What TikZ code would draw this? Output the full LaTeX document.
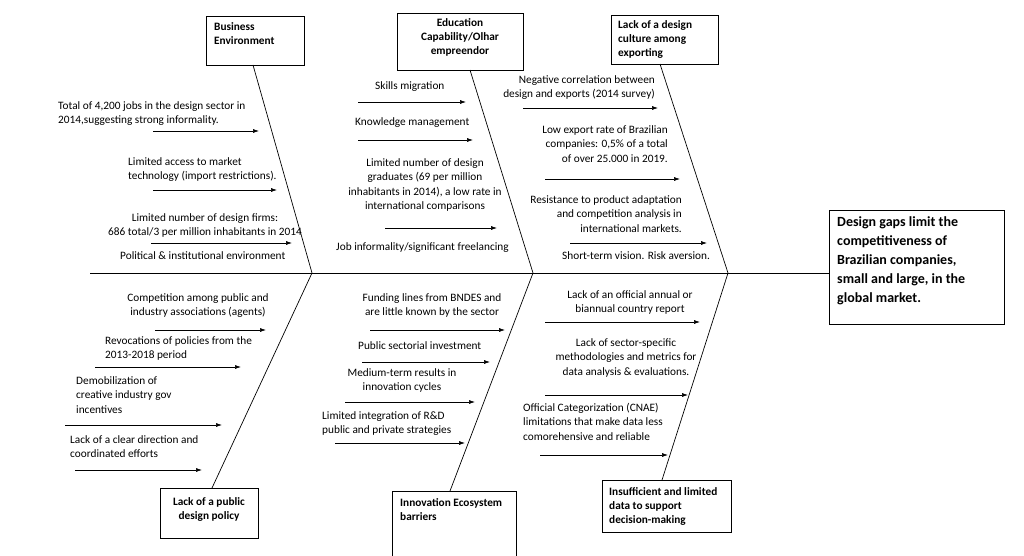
\documentclass[tikz,border=0pt]{standalone}
\usepackage{fontspec}
\setmainfont{Carlito}
\usetikzlibrary{arrows.meta}
\tikzset{
  cause/.style = {align=left, font=\fontsize{11.3}{14}\selectfont\bfseries, inner sep=0pt},
  txt/.style = {font=\fontsize{11.3}{14.5}\selectfont, inner sep=0pt},
  ar/.style = {-{Latex[length=6pt,width=4pt]}, line width=0.6pt},
  bone/.style = {line width=0.7pt}
}
\begin{document}
\begin{tikzpicture}[x=1pt,y=-1pt]
  \useasboundingbox (0,0) rectangle (1024,556);
  %%% boxes
  \draw[line width=0.6pt] (206,16) rectangle (304,65);
  \node[cause,anchor=north west] (be) at (214,22) {Business\\Environment};
  \draw[line width=0.6pt] (397,13) rectangle (523,70);
  \node[cause,align=center,anchor=north] (ed) at (460,18) {Education\\Capability/Olhar\\empreendor};
  \draw[line width=0.6pt] (611,15) rectangle (718,64);
  \node[cause,anchor=north west] (lc) at (618,20) {Lack of a design\\culture among\\exporting};
  \draw[line width=0.6pt] (160,488) rectangle (258,538);
  \node[cause,align=center,anchor=north] (pp) at (209,497) {Lack of a public\\design policy};
  \draw[line width=0.6pt] (392,556) -- (392,491) -- (516,491) -- (516,556);
  \node[cause,anchor=north west] (ie) at (400,498) {Innovation Ecosystem\\barriers};
  \draw[line width=0.6pt] (602,480) rectangle (731,532);
  \node[cause,anchor=north west] (id) at (609,487) {Insufficient and limited\\data to support\\decision-making};
  \draw[line width=0.6pt] (829,210) rectangle (1004,324);
  \node[cause,font=\fontsize{14}{19}\selectfont\bfseries,anchor=north west] (eff) at (837,216)
    {Design gaps limit the\\competitiveness of\\Brazilian companies,\\small and large, in the\\global market.};
  %%% spine and bones
  \draw[bone] (90,273) -- (829,273);
  \draw[bone] (253,65) -- (312,273) -- (212,488);
  \draw[bone] (470,70) -- (533,273) -- (450,491);
  \draw[bone] (660,64) -- (728,273) -- (662,480);
  %%% business environment
  \node[txt,align=left,anchor=north west] (b1) at (58,101) {Total of 4,200 jobs in the design sector in\\2014,suggesting strong informality.};
  \draw[ar] (153,131) -- (259,131);
  \node[txt,align=left,anchor=north west] (b2) at (128,157) {Limited access to market\\technology (import restrictions).};
  \draw[ar] (153,190) -- (277,190);
  \node[txt,align=center,anchor=north] (b3) at (205,213) {Limited number of design firms:\\686 total/3 per million inhabitants in 2014};
  \draw[ar] (151,243) -- (292,243);
  \node[txt,anchor=north west] (b4) at (120,251) {Political \& institutional environment};
  %%% education
  \node[txt,anchor=north west] (e1) at (375,81) {Skills migration};
  \draw[ar] (358,102) -- (466,102);
  \node[txt,anchor=north west] (e2) at (355,117) {Knowledge management};
  \draw[ar] (358,140) -- (473,140);
  \node[txt,align=center,anchor=north] (e3) at (425,158) {Limited number of design\\graduates (69 per million\\inhabitants in 2014), a low rate in\\international comparisons};
  \draw[ar] (385,228) -- (497,228);
  \node[txt,anchor=north west] (e4) at (336,242) {Job informality/significant freelancing};
  %%% design culture
  \node[txt,align=right,anchor=north east] (c1) at (655,75) {Negative correlation between\\design and exports (2014 survey)};
  \draw[ar] (523,108) -- (658,108);
  \node[txt,align=right,anchor=north east] (c2) at (668,125) {Low export rate of Brazilian\\companies: 0,5\% of a total\\of over 25.000 in 2019.};
  \draw[ar] (545,179) -- (680,179);
  \node[txt,align=right,anchor=north east] (c3) at (682,195) {Resistance to product adaptation\\and competition analysis in\\international markets.};
  \draw[ar] (570,243) -- (707,243);
  \node[txt,anchor=north west] (c4) at (562,251) {Short-term vision. Risk aversion.};
  %%% public policy
  \node[txt,align=center,anchor=north] (p1) at (198,293) {Competition among public and\\industry associations (agents)};
  \draw[ar] (155,330) -- (266,330);
  \node[txt,align=left,anchor=north west] (p2) at (105,336) {Revocations of policies from the\\2013-2018 period};
  \draw[ar] (95,367) -- (241,367);
  \node[txt,align=left,anchor=north west] (p3) at (76,376) {Demobilization of\\creative industry gov\\incentives};
  \draw[ar] (65,425) -- (222,425);
  \node[txt,align=left,anchor=north west] (p4) at (70,435) {Lack of a clear direction and\\coordinated efforts};
  \draw[ar] (75,470) -- (202,470);
  %%% innovation ecosystem
  \node[txt,align=center,anchor=north] (i1) at (432,293) {Funding lines from BNDES and\\are little known by the sector};
  \draw[ar] (370,330) -- (505,330);
  \node[txt,anchor=north west] (i2) at (358,341) {Public sectorial investment};
  \draw[ar] (362,362) -- (490,362);
  \node[txt,align=center,anchor=north] (i3) at (402,368) {Medium-term results in\\innovation cycles};
  \draw[ar] (345,402) -- (475,402);
  \node[txt,align=left,anchor=north west] (i4) at (322,411) {Limited integration of R\&D\\public and private strategies};
  \draw[ar] (335,443) -- (465,443);
  %%% insufficient data
  \node[txt,align=center,anchor=north] (d1) at (630,290) {Lack of an official annual or\\biannual country report};
  \draw[ar] (545,322) -- (700,322);
  \node[txt,align=center,anchor=north] (d2) at (626,338) {Lack of sector-specific\\methodologies and metrics for\\data analysis \& evaluations.};
  \draw[ar] (545,395) -- (688,395);
  \node[txt,align=left,anchor=north west] (d3) at (523,403) {Official Categorization (CNAE)\\limitations that make data less\\comorehensive and reliable};
  \draw[ar] (540,455) -- (668,455);
\end{tikzpicture}
\end{document}
